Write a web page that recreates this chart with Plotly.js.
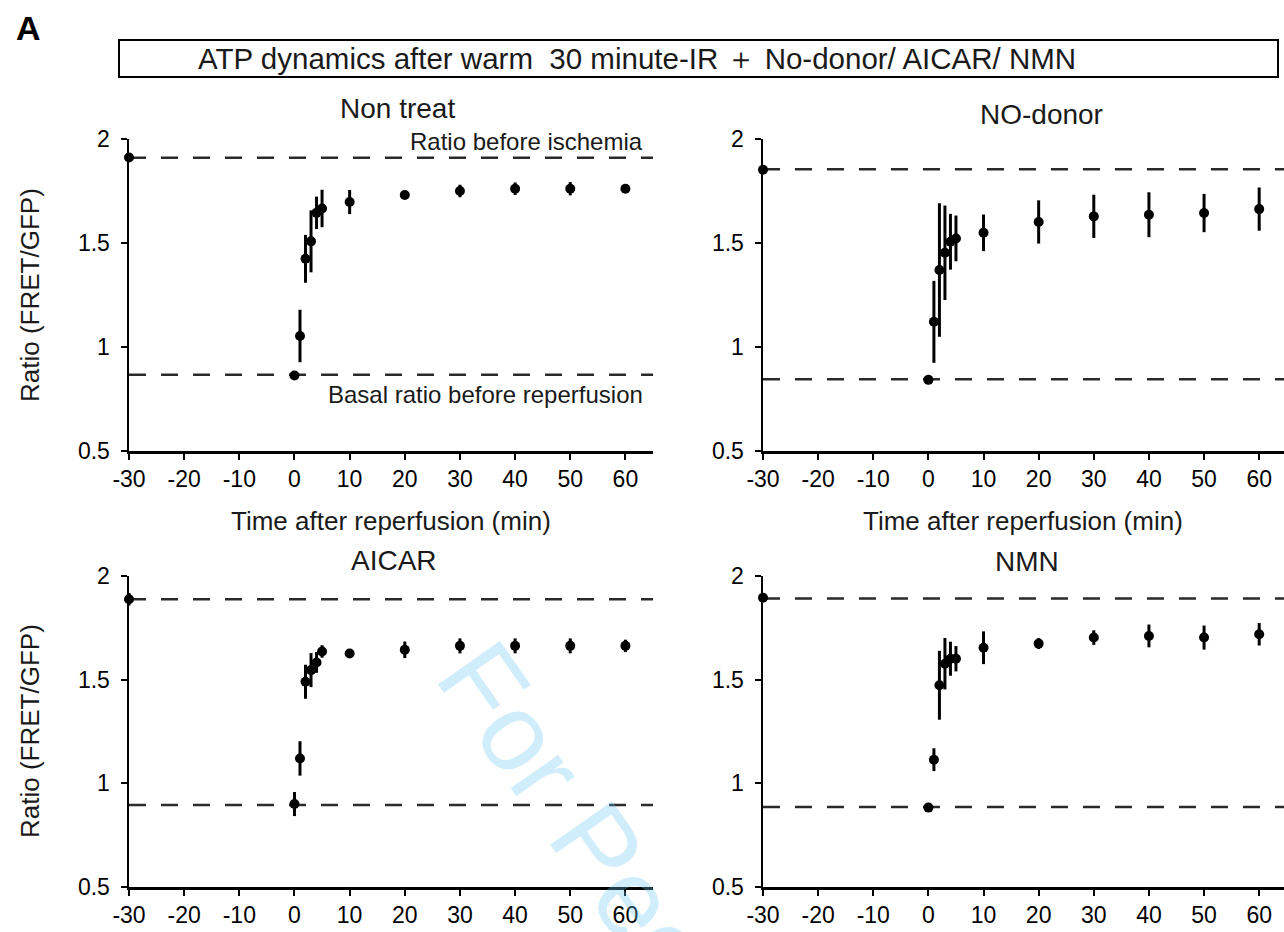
<!DOCTYPE html>
<html>
<head>
<meta charset="utf-8">
<script src="https://cdn.plot.ly/plotly-3.0.1.min.js"></script>
<style>html,body{margin:0;padding:0;background:#fff;}#chart{width:1284px;height:932px;}</style>
</head>
<body>
<div id="chart"></div>
<script>
// ---------- data ----------
var time = [-30, 0, 1, 2, 3, 4, 5, 10, 20, 30, 40, 50, 60];

var nonTreat    = [1.911, 0.863, 1.053, 1.424, 1.508, 1.645, 1.666, 1.697, 1.731, 1.750, 1.761, 1.761, 1.761];
var nonTreatErr = [0.010, 0.015, 0.126, 0.115, 0.149, 0.078, 0.090, 0.058, 0.015, 0.030, 0.030, 0.032, 0.015];

var noDonor     = [1.852, 0.842, 1.121, 1.370, 1.453, 1.506, 1.522, 1.549, 1.601, 1.628, 1.636, 1.644, 1.663];
var noDonorErr  = [0.010, 0.010, 0.197, 0.321, 0.227, 0.134, 0.110, 0.088, 0.104, 0.104, 0.108, 0.092, 0.104];

var aicar       = [1.888, 0.900, 1.120, 1.490, 1.546, 1.583, 1.636, 1.626, 1.644, 1.663, 1.663, 1.663, 1.663];
var aicarErr    = [0.030, 0.058, 0.083, 0.082, 0.082, 0.050, 0.030, 0.020, 0.040, 0.036, 0.036, 0.036, 0.030];

var nmn         = [1.895, 0.883, 1.114, 1.473, 1.577, 1.601, 1.601, 1.654, 1.674, 1.703, 1.711, 1.703, 1.719];
var nmnErr      = [0.010, 0.010, 0.055, 0.166, 0.124, 0.082, 0.061, 0.079, 0.026, 0.035, 0.055, 0.058, 0.054];

var panelNames   = ["Non treat", "NO-donor", "AICAR", "NMN"];
var preIschemia  = [1.910, 1.855, 1.888, 1.891];   // "Ratio before ischemia"
var basalRatio   = [0.866, 0.845, 0.896, 0.886];   // "Basal ratio before reperfusion"
var refLineX     = [[-30, 65], [-30, 64.5], [-30, 65], [-30, 64.5]];

var xTickVals = [-30, -20, -10, 0, 10, 20, 30, 40, 50, 60];
var xTickText = ["-30", "-20", "-10", "0", "10", "20", "30", "40", "50", "60"];
var yTickVals = [0.5, 1, 1.5, 2];
var yTickText = ["0.5", "1", "1.5", "2"];

// ---------- layout helpers ----------
var W = 1284, H = 932;
function px(x) { return x / W; }
function py(y) { return 1 - y / H; }
var FONT = "Liberation Sans, Arial, Helvetica, sans-serif";

var series = [nonTreat, noDonor, aicar, nmn];
var errs = [nonTreatErr, noDonorErr, aicarErr, nmnErr];

var traces = [];
for (var i = 0; i < 4; i++) {
  var xa = i === 0 ? "x" : "x" + (i + 1);
  var ya = i === 0 ? "y" : "y" + (i + 1);
  var lineStyle = {color: "#2a2a2a", width: 2.5, dash: "17px,15px"};
  traces.push({x: refLineX[i], y: [preIschemia[i], preIschemia[i]], xaxis: xa, yaxis: ya,
    mode: "lines", line: lineStyle, hoverinfo: "skip", cliponaxis: false});
  traces.push({x: refLineX[i], y: [basalRatio[i], basalRatio[i]], xaxis: xa, yaxis: ya,
    mode: "lines", line: lineStyle, hoverinfo: "skip", cliponaxis: false});
  traces.push({x: time, y: series[i], xaxis: xa, yaxis: ya, mode: "markers",
    marker: {color: "#000", size: 10}, cliponaxis: false,
    error_y: {type: "data", array: errs[i], visible: true, color: "#000", thickness: 3, width: 0}});
}

var xRanges = [[-30, 65], [-30, 64.5], [-30, 65], [-30, 64.5]];
var xDomL = [px(129), px(653)], xDomR = [px(763), 1];
var yDomT = [py(451), py(139)], yDomB = [py(887), py(576)];
var xDoms = [xDomL, xDomR, xDomL, xDomR];
var yDoms = [yDomT, yDomT, yDomB, yDomB];

var layout = {
  width: W, height: H,
  margin: {l: 0, r: 0, t: 0, b: 0},
  paper_bgcolor: "#fff", plot_bgcolor: "rgba(0,0,0,0)",
  showlegend: false,
  font: {family: FONT, color: "#000", size: 23},
  shapes: [{type: "rect", xref: "paper", yref: "paper",
    x0: px(119), x1: px(1278), y0: py(77), y1: py(40),
    line: {color: "#000", width: 2}}],
  annotations: []
};

for (var j = 0; j < 4; j++) {
  var sx = j === 0 ? "" : String(j + 1);
  layout["xaxis" + sx] = {
    domain: xDoms[j], range: xRanges[j], anchor: "y" + sx,
    showgrid: false, zeroline: false, showline: true, linecolor: "#000", linewidth: 2.5,
    ticks: "outside", ticklen: 6, tickwidth: 2, tickcolor: "#000",
    tickvals: xTickVals, ticktext: xTickText, ticklabelstandoff: 0,
    tickfont: {family: FONT, size: 23, color: "#000"}, fixedrange: true
  };
  layout["yaxis" + sx] = {
    domain: yDoms[j], range: [0.5, 2], anchor: "x" + sx,
    showgrid: false, zeroline: false, showline: true, linecolor: "#000", linewidth: 2.5,
    ticks: "outside", ticklen: 6, tickwidth: 2, tickcolor: "#000",
    tickvals: yTickVals, ticktext: yTickText, ticklabelstandoff: 6,
    tickfont: {family: FONT, size: 23, color: "#000"}, fixedrange: true
  };
}

function ann(text, x, y, size, opts) {
  var a = {text: text, x: px(x), y: py(y), xref: "paper", yref: "paper", showarrow: false,
    xanchor: "center", yanchor: "middle", font: {family: FONT, size: size, color: "#1a1a1a"}};
  for (var k in opts) a[k] = opts[k];
  return a;
}

layout.annotations.push(ann("<b>A</b>", 28, 28, 34, {font: {family: FONT, size: 34, color: "#000"}}));
layout.annotations.push(ann("ATP dynamics after warm  30 minute-IR ＋ No-donor/ AICAR/ NMN", 637, 58, 29.5));
var titlePos = [[397, 108], [1041, 114], [394, 560], [1027, 561]];
for (var t = 0; t < 4; t++) {
  layout.annotations.push(ann(panelNames[t], titlePos[t][0], titlePos[t][1], 28));
}
layout.annotations.push(ann("Ratio before ischemia", 645, 141, 24, {xanchor: "right"}));
layout.annotations.push(ann("Basal ratio before reperfusion", 645, 394, 24, {xanchor: "right"}));
layout.annotations.push(ann("Time after reperfusion (min)", 391, 521, 26));
layout.annotations.push(ann("Time after reperfusion (min)", 1023, 521, 26));
layout.annotations.push(ann("Ratio (FRET/GFP)", 30, 295, 26, {textangle: -90}));
layout.annotations.push(ann("Ratio (FRET/GFP)", 30, 731, 26, {textangle: -90}));
// watermark
layout.annotations.push(ann("For Peer Review", 699, 991, 110,
  {textangle: 55, font: {family: FONT, size: 110, color: "rgba(110,200,245,0.32)"}}));

Plotly.newPlot("chart", traces, layout, {staticPlot: true, displayModeBar: false});
</script>
</body>
</html>
